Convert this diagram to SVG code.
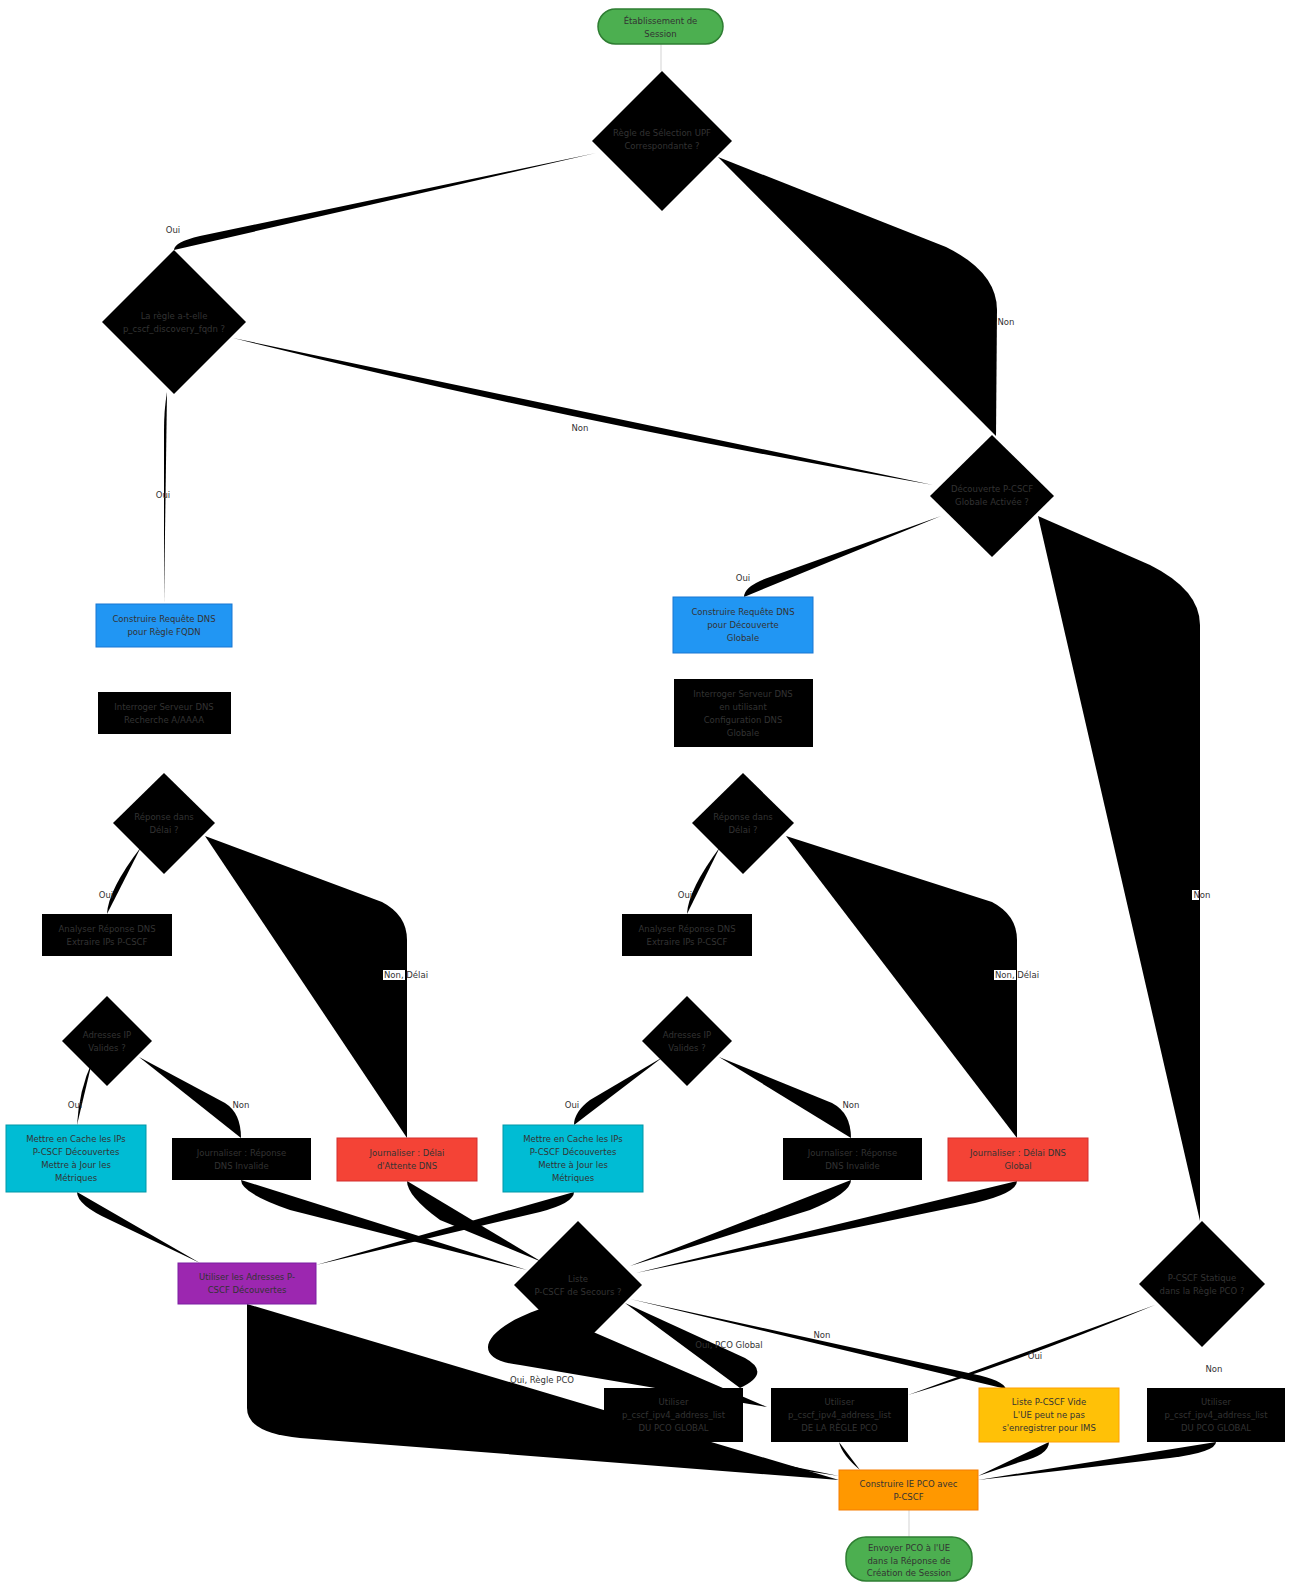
<svg xmlns="http://www.w3.org/2000/svg" width="1289" height="1582" viewBox="0 0 1289 1582">
<style>
text{font-family:"DejaVu Sans","Noto Sans",sans-serif;font-size:8.5px;fill:#333;text-anchor:middle}
.e{fill:#000;stroke:none}
.s{fill:none;stroke:#d3d3d3;stroke-width:1}
.bg{fill:#fff;stroke:none}
.blk{fill:#000;stroke:none}
.dia{fill:#000;stroke:none}
.green{fill:#4CAF50;stroke:#2E7D32;stroke-width:1.5}
.blue{fill:#2196F3;stroke:#1976D2;stroke-width:1}
.cyan{fill:#00BCD4;stroke:#0097A7;stroke-width:1}
.red{fill:#F44336;stroke:#D32F2F;stroke-width:1}
.purple{fill:#9C27B0;stroke:#7B1FA2;stroke-width:1}
.yellow{fill:#FFC107;stroke:#FFA000;stroke-width:1}
.orange{fill:#FF9800;stroke:#F57C00;stroke-width:1}
</style>
<g id="connectors">
<path class="s" d="M661,44 L661,71"/>
<path class="e" d="M596,153 L200,236 Q174,242 174,250"/>
<path class="e" d="M718,157 L946,247 Q997,272 997,310 L996,436"/>
<path class="e" d="M233,338 Q560,420 933,485"/>
<path class="e" d="M167,392 Q164,410 164,430 L164,604"/>
<path class="e" d="M941,516 L770,577 Q744,586 744,597"/>
<path class="e" d="M1038,516 L1150,565 Q1200,590 1200,625 L1200,1221"/>
<path class="e" d="M141,847 Q108,890 107,914"/>
<path class="e" d="M205,836 L382,902 Q407,915 407,940 L407,1138"/>
<path class="e" d="M720,847 Q688,890 687,914"/>
<path class="e" d="M786,836 L992,902 Q1017,915 1017,940 L1017,1138"/>
<path class="e" d="M92,1062 Q79,1090 77,1125"/>
<path class="e" d="M139,1057 L225,1103 Q241,1113 241,1138"/>
<path class="e" d="M663,1057 L590,1100 Q574,1112 574,1125"/>
<path class="e" d="M719,1057 L832,1103 Q851,1113 851,1138"/>
<path class="e" d="M77,1192 Q77,1205 110,1220 L200,1263"/>
<path class="e" d="M574,1192 Q574,1203 540,1212 L316,1265"/>
<path class="e" d="M241,1180 Q241,1193 290,1210 L527,1270"/>
<path class="e" d="M407,1181 Q407,1196 440,1220 L542,1262"/>
<path class="e" d="M851,1180 Q851,1193 810,1210 L630,1266"/>
<path class="e" d="M1017,1181 Q1017,1193 975,1203 L636,1273"/>
<path class="e" d="M247,1304 L247,1408 Q247,1433 300,1438 L839,1480"/>
<path class="e" d="M625,1303 L745,1358 Q772,1373 740,1388"/>
<path class="e" d="M540,1309 C480,1330 470,1360 520,1365 L767,1407"/>
<path class="e" d="M630,1299 L973,1374 Q1003,1380 1006,1389"/>
<path class="e" d="M1155,1305 Q1010,1365 908,1395"/>
<path class="e" d="M1209,1340 L1214,1389"/>
<path class="e" d="M673,1442 Q673,1452 720,1458 L839,1476"/>
<path class="e" d="M839,1442 Q842,1455 860,1470"/>
<path class="e" d="M1049,1442 Q1049,1455 1020,1462 L978,1476"/>
<path class="e" d="M1216,1442 Q1216,1452 1170,1458 L978,1480"/>
<path class="s" d="M909,1510 L909,1537"/>
</g>
<g id="edge-labels">
<text x="173" y="233">Oui</text>
<text x="1006" y="325">Non</text>
<text x="580" y="431">Non</text>
<text x="163" y="498">Oui</text>
<text x="743" y="581">Oui</text>
<text x="106" y="898">Oui</text>
<text x="685" y="898">Oui</text>
<rect class="bg" x="383" y="970" width="22" height="10"/><text x="406" y="978">Non, Délai</text>
<rect class="bg" x="994" y="970" width="22" height="10"/><text x="1017" y="978">Non, Délai</text>
<rect class="bg" x="1192" y="890" width="7" height="10"/><text x="1202" y="898">Non</text>
<text x="75" y="1108">Oui</text>
<text x="241" y="1108">Non</text>
<text x="572" y="1108">Oui</text>
<text x="851" y="1108">Non</text>
<text x="729" y="1348">Oui, PCO Global</text>
<text x="822" y="1338">Non</text>
<text x="1035" y="1359">Oui</text>
<text x="1214" y="1372">Non</text>
<text x="542" y="1383">Oui, Règle PCO</text>
</g>
<g id="start"><rect class="green" x="598" y="9" width="125" height="35" rx="17.5"/><text x="660.5" y="23.5">Établissement de</text><text x="660.5" y="36.5">Session</text></g>
<g id="d1"><polygon class="dia" points="662,71 732,141 662,211 592,141"/><text x="662" y="136">Règle de Sélection UPF</text><text x="662" y="149">Correspondante ?</text></g>
<g id="d2"><polygon class="dia" points="174,250 246,322 174,394 102,322"/><text x="174" y="319">La règle a-t-elle</text><text x="174" y="332">p_cscf_discovery_fqdn ?</text></g>
<g id="d3"><polygon class="dia" points="992,435 1054,496 992,557 930,496"/><text x="992" y="492">Découverte P-CSCF</text><text x="992" y="505">Globale Activée ?</text></g>
<g id="fqdn"><rect class="blue" x="96" y="604" width="136" height="43"/><text x="164" y="622">Construire Requête DNS</text><text x="164" y="635">pour Règle FQDN</text></g>
<g id="dnsL"><rect class="blk" x="98" y="692" width="133" height="42"/><text x="164" y="709.5">Interroger Serveur DNS</text><text x="164" y="722.5">Recherche A/AAAA</text></g>
<g id="glob"><rect class="blue" x="673" y="597" width="140" height="56"/><text x="743" y="615">Construire Requête DNS</text><text x="743" y="628">pour Découverte</text><text x="743" y="641">Globale</text></g>
<g id="dnsR"><rect class="blk" x="674" y="679" width="139" height="68"/><text x="743" y="696.5">Interroger Serveur DNS</text><text x="743" y="709.5">en utilisant</text><text x="743" y="722.5">Configuration DNS</text><text x="743" y="735.5">Globale</text></g>
<g id="repL"><polygon class="dia" points="164,773 215,823 164,874 113,823"/><text x="164" y="820">Réponse dans</text><text x="164" y="833">Délai ?</text></g>
<g id="repR"><polygon class="dia" points="743,773 794,823 743,874 692,823"/><text x="743" y="820">Réponse dans</text><text x="743" y="833">Délai ?</text></g>
<g id="anaL"><rect class="blk" x="42" y="914" width="130" height="42"/><text x="107" y="931.5">Analyser Réponse DNS</text><text x="107" y="944.5">Extraire IPs P-CSCF</text></g>
<g id="anaR"><rect class="blk" x="622" y="914" width="130" height="42"/><text x="687" y="931.5">Analyser Réponse DNS</text><text x="687" y="944.5">Extraire IPs P-CSCF</text></g>
<g id="ipL"><polygon class="dia" points="107,996 152,1041 107,1086 62,1041"/><text x="107" y="1037.5">Adresses IP</text><text x="107" y="1050.5">Valides ?</text></g>
<g id="ipR"><polygon class="dia" points="687,996 732,1041 687,1086 642,1041"/><text x="687" y="1037.5">Adresses IP</text><text x="687" y="1050.5">Valides ?</text></g>
<g id="cacheL"><rect class="cyan" x="6" y="1125" width="140" height="67"/><text x="76" y="1142">Mettre en Cache les IPs</text><text x="76" y="1155">P-CSCF Découvertes</text><text x="76" y="1168">Mettre à Jour les</text><text x="76" y="1181">Métriques</text></g>
<g id="invL"><rect class="blk" x="172" y="1138" width="139" height="42"/><text x="241.5" y="1155.5">Journaliser : Réponse</text><text x="241.5" y="1168.5">DNS Invalide</text></g>
<g id="toL"><rect class="red" x="337" y="1138" width="140" height="43"/><text x="407" y="1155.5">Journaliser : Délai</text><text x="407" y="1168.5">d'Attente DNS</text></g>
<g id="cacheR"><rect class="cyan" x="503" y="1125" width="140" height="67"/><text x="573" y="1142">Mettre en Cache les IPs</text><text x="573" y="1155">P-CSCF Découvertes</text><text x="573" y="1168">Mettre à Jour les</text><text x="573" y="1181">Métriques</text></g>
<g id="invR"><rect class="blk" x="783" y="1138" width="139" height="42"/><text x="852.5" y="1155.5">Journaliser : Réponse</text><text x="852.5" y="1168.5">DNS Invalide</text></g>
<g id="toR"><rect class="red" x="948" y="1138" width="140" height="43"/><text x="1018" y="1155.5">Journaliser : Délai DNS</text><text x="1018" y="1168.5">Global</text></g>
<g id="useDisc"><rect class="purple" x="178" y="1263" width="138" height="41"/><text x="247" y="1280">Utiliser les Adresses P-</text><text x="247" y="1293">CSCF Découvertes</text></g>
<g id="fallback"><polygon class="dia" points="578,1221 642,1285 578,1349 514,1285"/><text x="578" y="1281.5">Liste</text><text x="578" y="1294.5">P-CSCF de Secours ?</text></g>
<g id="static"><polygon class="dia" points="1202,1221 1265,1284 1202,1347 1139,1284"/><text x="1202" y="1280.5">P-CSCF Statique</text><text x="1202" y="1293.5">dans la Règle PCO ?</text></g>
<g id="pcoGL"><rect class="blk" x="604" y="1388" width="139" height="54"/><text x="673.5" y="1405">Utiliser</text><text x="673.5" y="1418">p_cscf_ipv4_address_list</text><text x="673.5" y="1431">DU PCO GLOBAL</text></g>
<g id="pcoRule"><rect class="blk" x="771" y="1388" width="137" height="54"/><text x="839.5" y="1405">Utiliser</text><text x="839.5" y="1418">p_cscf_ipv4_address_list</text><text x="839.5" y="1431">DE LA RÈGLE PCO</text></g>
<g id="empty"><rect class="yellow" x="979" y="1388" width="140" height="54"/><text x="1049" y="1405">Liste P-CSCF Vide</text><text x="1049" y="1418">L'UE peut ne pas</text><text x="1049" y="1431">s'enregistrer pour IMS</text></g>
<g id="pcoGR"><rect class="blk" x="1147" y="1388" width="138" height="54"/><text x="1216" y="1405">Utiliser</text><text x="1216" y="1418">p_cscf_ipv4_address_list</text><text x="1216" y="1431">DU PCO GLOBAL</text></g>
<g id="buildPco"><rect class="orange" x="839" y="1470" width="139" height="40"/><text x="908.5" y="1487">Construire IE PCO avec</text><text x="908.5" y="1500">P-CSCF</text></g>
<g id="end"><rect class="green" x="846" y="1537" width="126" height="44" rx="20"/><text x="909" y="1551">Envoyer PCO à l'UE</text><text x="909" y="1563.5">dans la Réponse de</text><text x="909" y="1576">Création de Session</text></g>
</svg>
